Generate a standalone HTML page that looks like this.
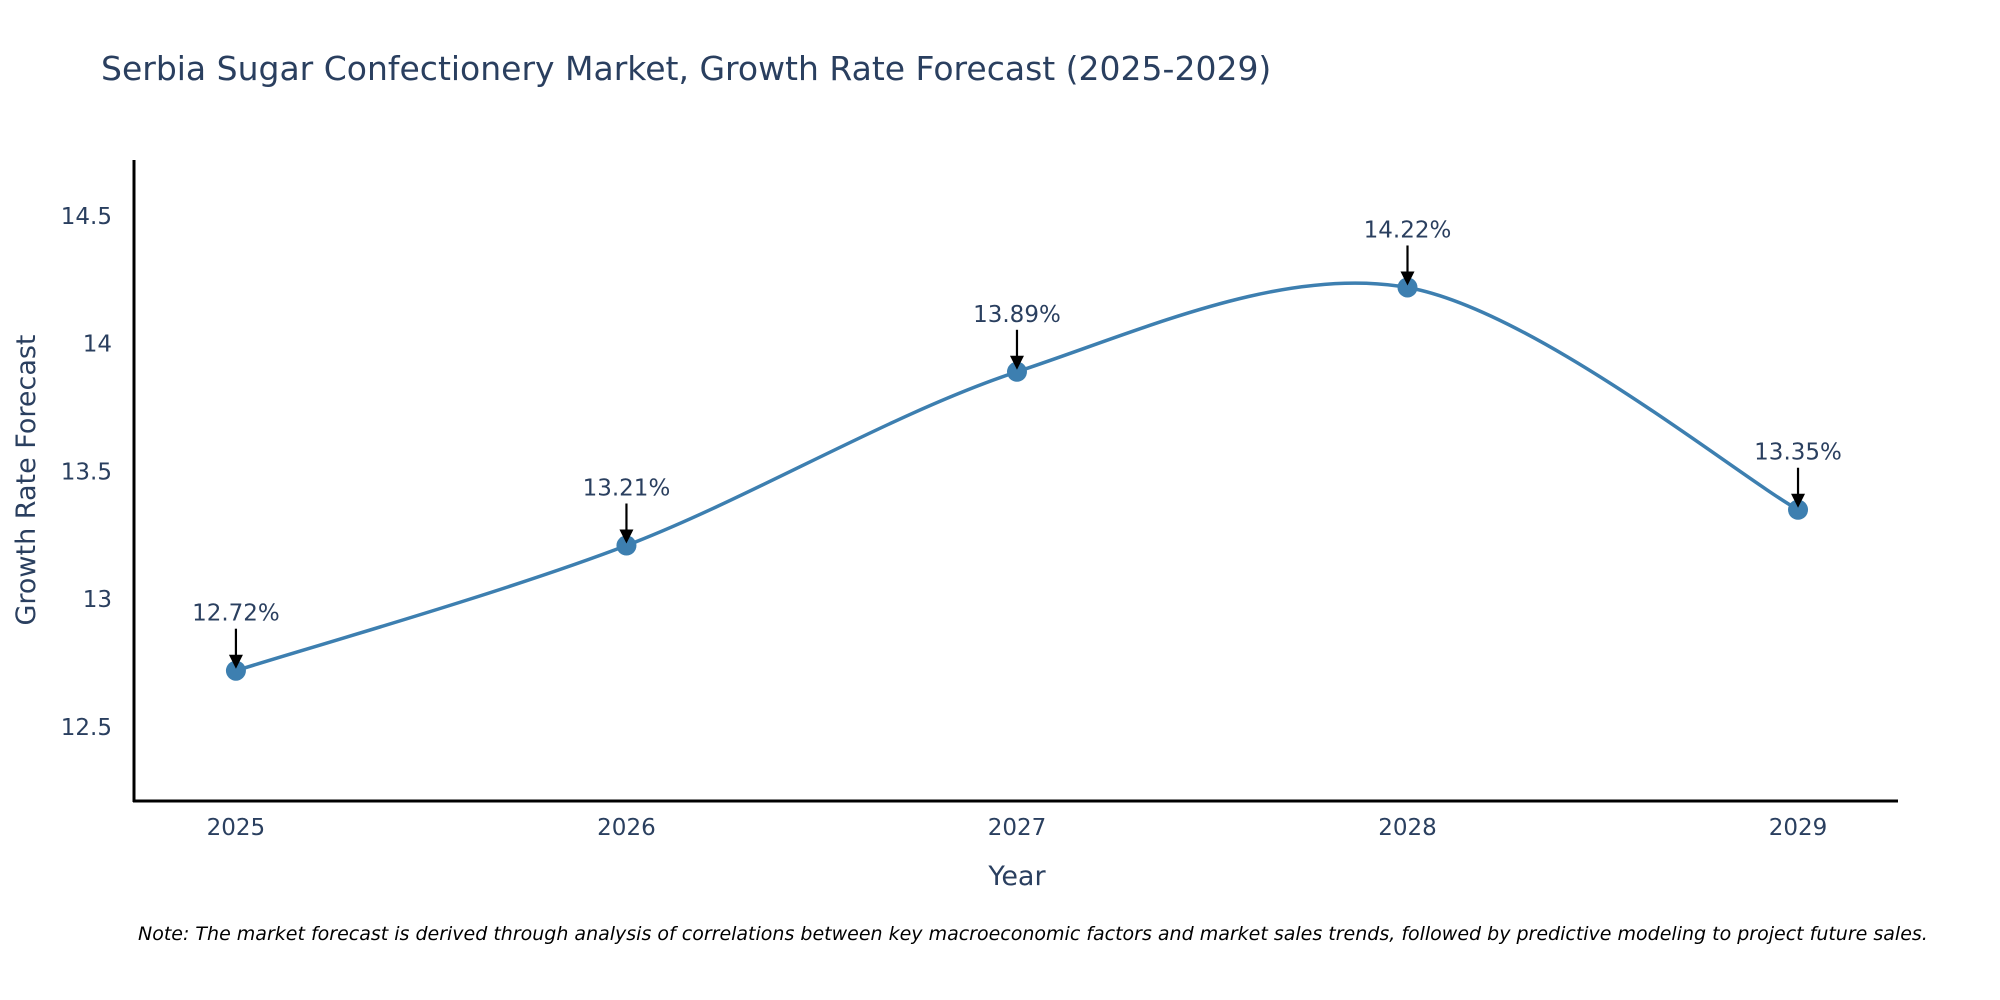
<!DOCTYPE html>
<html><head><meta charset="utf-8"><style>
body{margin:0;background:#fff;}
svg{display:block;font-family:"DejaVu Sans","Liberation Sans",sans-serif;}
</style></head><body>
<svg id="chart" width="2000" height="1000" viewBox="0 0 2000 1000">
<text x="101" y="80" font-size="33" fill="#2a3f5f">Serbia Sugar Confectionery Market, Growth Rate Forecast (2025-2029)</text>
<g id="yticks"></g><g id="xticks"></g>
<line x1="134" y1="160" x2="134" y2="802" stroke="#000" stroke-width="3"/>
<line x1="133" y1="801" x2="1898" y2="801" stroke="#000" stroke-width="3"/>
<path id="line" fill="none" stroke="#3d7fb0" stroke-width="3.5"/>
<g id="marks"></g>
<text transform="translate(35,480) rotate(-90)" text-anchor="middle" font-size="27" fill="#2a3f5f">Growth Rate Forecast</text>
<text x="1017" y="885" text-anchor="middle" font-size="27" fill="#2a3f5f">Year</text>
<text x="138" y="940" font-size="19" font-style="italic" fill="#000">Note: The market forecast is derived through analysis of correlations between key macroeconomic factors and market sales trends, followed by predictive modeling to project future sales.</text>
</svg>
<script>
const years=[2025,2026,2027,2028,2029];
const values=[12.72,13.21,13.89,14.22,13.35];
const labels=["12.72%","13.21%","13.89%","14.22%","13.35%"];
const yTicks=[12.5,13,13.5,14,14.5];
const NS="http://www.w3.org/2000/svg";
const X0=2024.739,X1=2029.256,PX0=134,PX1=1898;
const Y0=12.21,Y1=14.715,PY0=801,PY1=161;
function xs(v){return PX0+(v-X0)/(X1-X0)*(PX1-PX0);}
function ys(v){return PY0-(v-Y0)/(Y1-Y0)*(PY0-PY1);}
function mk(t,a){const e=document.createElementNS(NS,t);for(const k in a)e.setAttribute(k,a[k]);return e;}
const yt=document.getElementById('yticks');
yTicks.forEach(v=>{const t=mk('text',{x:112,y:ys(v)+8,'text-anchor':'end','font-size':23,fill:'#2a3f5f'});


t.textContent=String(v);yt.appendChild(t);});
const xt=document.getElementById('xticks');
years.forEach(v=>{const t=mk('text',{x:xs(v),y:835,'text-anchor':'middle','font-size':23,fill:'#2a3f5f'});


t.textContent=String(v);xt.appendChild(t);});
const P=years.map((y,i)=>[xs(y),ys(values[i])]);
let d='M'+P[0][0]+','+P[0][1];const s=0.16;
for(let i=0;i<P.length-1;i++){const p0=P[Math.max(i-1,0)],p1=P[i],p2=P[i+1],p3=P[Math.min(i+2,P.length-1)];
const c1=[p1[0]+(p2[0]-p0[0])*s,p1[1]+(p2[1]-p0[1])*s],c2=[p2[0]-(p3[0]-p1[0])*s,p2[1]-(p3[1]-p1[1])*s];
d+=' C'+c1+' '+c2+' '+p2;}
document.getElementById('line').setAttribute('d',d);
const g=document.getElementById('marks');
P.forEach((p,i)=>{
const c=mk('circle',{cx:p[0],cy:p[1],r:10,fill:'#3d7fb0'});


g.appendChild(c);
const l=mk('line',{x1:p[0],y1:p[1]-42,x2:p[0],y2:p[1]-14,stroke:'#000','stroke-width':2.2});


g.appendChild(l);
const h=mk('polygon',{points:(p[0]-7)+','+(p[1]-16)+' '+(p[0]+7)+','+(p[1]-16)+' '+p[0]+','+(p[1]-2),fill:'#000'});


g.appendChild(h);
const t=mk('text',{x:p[0],y:p[1]-50,'text-anchor':'middle','font-size':23,fill:'#2a3f5f'});


t.textContent=labels[i];g.appendChild(t);});
</script>
</body></html>
